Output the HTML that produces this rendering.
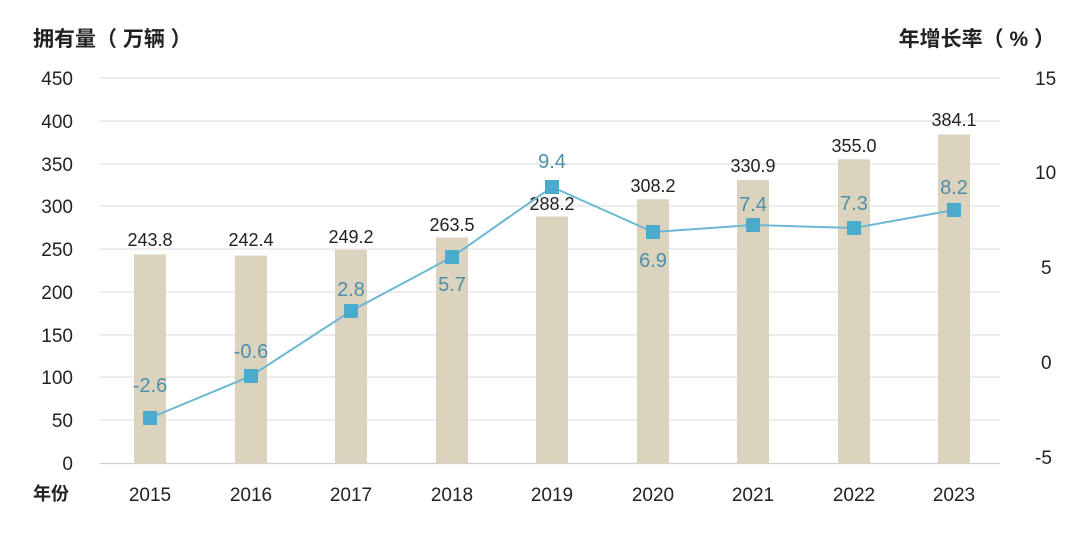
<!DOCTYPE html>
<html><head><meta charset="utf-8"><style>
html,body{margin:0;padding:0;background:#fff;}
svg{display:block;font-family:"Liberation Sans","Noto Sans CJK SC",sans-serif;}
</style></head><body>
<svg width="1080" height="543" viewBox="0 0 1080 543">
<g stroke="#e2e2e2" stroke-width="1.2">
<line x1="100" x2="1000" y1="78" y2="78"/><line x1="100" x2="1000" y1="121" y2="121"/>
<line x1="100" x2="1000" y1="164" y2="164"/><line x1="100" x2="1000" y1="206" y2="206"/>
<line x1="100" x2="1000" y1="249" y2="249"/><line x1="100" x2="1000" y1="292" y2="292"/>
<line x1="100" x2="1000" y1="335" y2="335"/><line x1="100" x2="1000" y1="377" y2="377"/>
<line x1="100" x2="1000" y1="420" y2="420"/>
</g>
<line x1="100" x2="1000" y1="463.5" y2="463.5" stroke="#cfcfcf" stroke-width="1.2"/>
<g font-size="19" fill="#222" text-anchor="end">
<text x="73" y="85">450</text><text x="73" y="128">400</text><text x="73" y="171">350</text>
<text x="73" y="213">300</text><text x="73" y="256">250</text><text x="73" y="299">200</text>
<text x="73" y="342">150</text><text x="73" y="384">100</text><text x="73" y="427">50</text>
<text x="73" y="470">0</text>
</g>
<g font-size="19" fill="#222">
<text x="1035" y="85">15</text><text x="1035" y="179">10</text><text x="1041" y="274">5</text>
<text x="1041" y="369">0</text><text x="1035" y="464">-5</text>
</g>
<text x="33" y="46" font-size="21" font-weight="bold" fill="#222">拥有量（ 万辆 ）</text>
<text x="1055" y="46" font-size="21" font-weight="bold" fill="#222" text-anchor="end">年增长率（ % ）</text>
<text x="33" y="500" font-size="18" font-weight="bold" fill="#222">年份</text>
<g fill="#dcd3bf">
<rect x="134" y="254.4" width="32" height="209"/>
<rect x="235" y="255.6" width="32" height="208"/>
<rect x="335" y="249.8" width="32" height="214"/>
<rect x="436" y="237.6" width="32" height="226"/>
<rect x="536" y="216.4" width="32" height="247"/>
<rect x="637" y="199.3" width="32" height="264"/>
<rect x="737" y="179.9" width="32" height="284"/>
<rect x="838" y="159.3" width="32" height="304"/>
<rect x="938" y="134.4" width="32" height="329"/>
</g>
<g font-size="18" fill="#222" text-anchor="middle">
<text x="150" y="246">243.8</text><text x="251" y="246">242.4</text><text x="351" y="243">249.2</text>
<text x="452" y="231">263.5</text><text x="552" y="210">288.2</text><text x="653" y="192">308.2</text>
<text x="753" y="172">330.9</text><text x="854" y="152">355.0</text><text x="954" y="126">384.1</text>
</g>
<g font-size="19" fill="#222" text-anchor="middle">
<text x="150" y="501">2015</text><text x="251" y="501">2016</text><text x="351" y="501">2017</text>
<text x="452" y="501">2018</text><text x="552" y="501">2019</text><text x="653" y="501">2020</text>
<text x="753" y="501">2021</text><text x="854" y="501">2022</text><text x="954" y="501">2023</text>
</g>
<polyline fill="none" stroke="#6cb8d4" stroke-width="2" points="150,418 251,376 351,311 452,257 552,187 653,232 753,225 854,228 954,210"/>
<g fill="#4aabcc">
<rect x="143" y="411" width="14" height="14"/><rect x="244" y="369" width="14" height="14"/>
<rect x="344" y="304" width="14" height="14"/><rect x="445" y="250" width="14" height="14"/>
<rect x="545" y="180" width="14" height="14"/><rect x="646" y="225" width="14" height="14"/>
<rect x="746" y="218" width="14" height="14"/><rect x="847" y="221" width="14" height="14"/>
<rect x="947" y="203" width="14" height="14"/>
</g>
<g font-size="20" fill="#4c8fa9" text-anchor="middle">
<text x="150" y="392">-2.6</text><text x="251" y="358">-0.6</text><text x="351" y="296">2.8</text>
<text x="452" y="291">5.7</text><text x="552" y="168">9.4</text><text x="653" y="267">6.9</text>
<text x="753" y="211">7.4</text><text x="854" y="210">7.3</text><text x="954" y="194">8.2</text>
</g>
</svg>
</body></html>
